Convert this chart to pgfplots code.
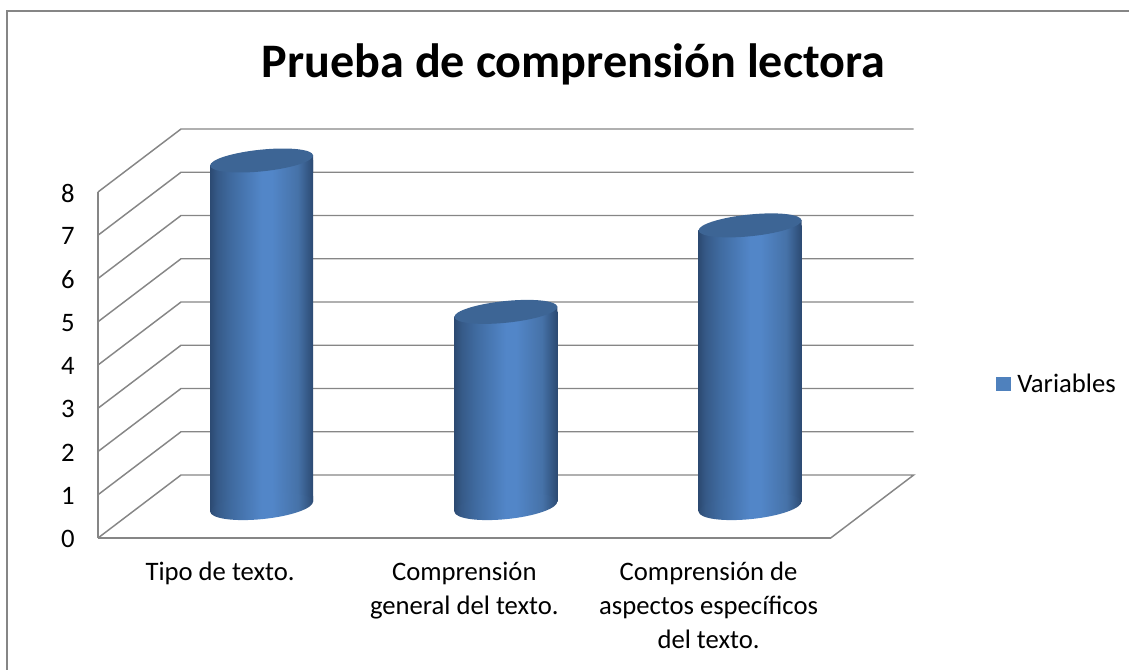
\documentclass[border=0pt]{standalone}
\usepackage{fontspec}
\setmainfont{Carlito}
\usepackage{pgfplots}
\pgfplotsset{compat=1.18}
\definecolor{gridc}{HTML}{868686}
\definecolor{topc}{HTML}{3D6595}
\definecolor{legc}{HTML}{4F81BD}
\definecolor{s0}{HTML}{2C4A72}
\definecolor{s1}{HTML}{365A88}
\definecolor{s2}{HTML}{3F6A9F}
\definecolor{s3}{HTML}{5286C8}
\definecolor{s4}{HTML}{4672A8}
\pgfdeclarehorizontalshading{cylshade}{100bp}{color(0bp)=(s0);color(25bp)=(s0);color(28.5bp)=(s1);color(35bp)=(s2);color(50bp)=(s3);color(55bp)=(s3);color(67.5bp)=(s4);color(72bp)=(s1);color(75bp)=(s0);color(100bp)=(s0)}
\pgfdeclareplotmark{cyltop}{%
  \fill[white,draw=none] (-39.2pt,0.6pt) -- (-33pt,0.6pt) -- (-39.2pt,-3.9pt) -- cycle;
  \path[draw=none,shading=cylshade] (-38.625pt,-3.9pt) -- (38.625pt,3.9pt) -- (38.625pt,-9pt) -- (-38.625pt,-9pt) -- cycle;
  \fill[topc,draw=none] (38.6pt,3.92pt) .. controls (38.147pt,8.394pt) and (20.50pt,10.265pt) .. (-0.82pt,8.1pt)
     .. controls (-22.14pt,5.935pt) and (-39.053pt,0.554pt) .. (-38.6pt,-3.92pt)
     .. controls (-38.147pt,-8.394pt) and (-20.50pt,-10.265pt) .. (0.82pt,-8.1pt)
     .. controls (22.14pt,-5.935pt) and (39.053pt,-0.554pt) .. (38.6pt,3.92pt) -- cycle;
}
\pgfdeclareplotmark{cylbot}{%
  \fill[white,draw=none] (39.2pt,-0.6pt) -- (33pt,-0.6pt) -- (39.2pt,3.9pt) -- cycle;
  \path[draw=none,shading=cylshade] (-38.625pt,8pt) -- (38.625pt,8pt) -- (38.625pt,3.9pt) -- (-38.625pt,-3.9pt) -- cycle;
  \path[draw=none,shading=cylshade] (38.6pt,3.92pt) .. controls (38.075pt,9.11pt) and (20.37pt,11.565pt) .. (-0.95pt,9.4pt)
     .. controls (-22.27pt,7.235pt) and (-39.125pt,1.27pt) .. (-38.6pt,-3.92pt)
     .. controls (-38.075pt,-9.11pt) and (-20.37pt,-11.565pt) .. (0.95pt,-9.4pt)
     .. controls (22.27pt,-7.235pt) and (39.125pt,-1.27pt) .. (38.6pt,3.92pt) -- cycle;
}
\tikzset{gl/.style={gridc,line width=1.1pt,mark=none}}
\begin{document}
\begin{tikzpicture}
\useasboundingbox (0,0) rectangle (846.75pt,501.75pt);
\draw[gridc,line width=1.3pt] (5pt,-1pt) -- (5pt,493.7pt) -- (848pt,493.7pt);
\begin{axis}[
  at={(73.5pt,98.25pt)}, anchor=south west,
  scale only axis, width=549.5pt, height=259.5pt,
  xmin=0, xmax=3, ymin=0, ymax=8,
  clip=false,
  axis x line=bottom, axis y line=left,
  axis line style={-,gridc,line width=1.1pt},
  major tick length=0pt,
  tick style={draw=none},
  ytick={0,1,2,3,4,5,6,7,8},
  xtick={0.5,1.5,2.5},
  xticklabels={{Tipo de texto.},{Comprensión\\general del texto.},{Comprensión de\\aspectos específicos\\del texto.}},
  /pgf/number format/assume math mode=true,
  tick label style={font=\fontsize{20}{25.5}\selectfont,text=black},
  xticklabel style={align=center,anchor=north,yshift=-14.5pt},
  yticklabel style={anchor=east,xshift=-14pt,yshift=-0.8pt},
  title={Prueba de comprensión lectora},
  title style={at={(0.649,1.347)},anchor=center,font=\fontsize{36.1}{42}\selectfont\bfseries},
]
\addplot[gl] coordinates {(0,1) (0.34,2.457) (3.34,2.457)};
\addplot[gl] coordinates {(0,2) (0.34,3.457) (3.34,3.457)};
\addplot[gl] coordinates {(0,3) (0.34,4.457) (3.34,4.457)};
\addplot[gl] coordinates {(0,4) (0.34,5.457) (3.34,5.457)};
\addplot[gl] coordinates {(0,5) (0.34,6.457) (3.34,6.457)};
\addplot[gl] coordinates {(0,6) (0.34,7.457) (3.34,7.457)};
\addplot[gl] coordinates {(0,7) (0.34,8.457) (3.34,8.457)};
\addplot[gl] coordinates {(0,8) (0.34,9.457) (3.34,9.457)};
\addplot[gl] coordinates {(0,0) (0.34,1.457) (3.34,1.457) (3,0)};
\end{axis}
\begin{axis}[
  at={(104.625pt,121.875pt)}, anchor=south west,
  scale only axis, width=549.5pt, height=259.5pt,
  xmin=0, xmax=3, ymin=0, ymax=8,
  clip=false, hide axis,
  legend style={at={(1.1645,0.354)},anchor=west,draw=none,fill=none,font=\fontsize{20}{24}\selectfont,inner sep=2pt,legend cell align=left},
]
\addplot[forget plot,ybar,bar width=77.25pt,draw=none,shading=cylshade] coordinates {(0.5,8)};
\addplot[forget plot,ybar,bar width=77.25pt,draw=none,shading=cylshade] coordinates {(1.5,4.5)};
\addplot[forget plot,ybar,bar width=77.25pt,draw=none,shading=cylshade] coordinates {(2.5,6.5)};
\addplot[forget plot,only marks,mark=cylbot,mark options={draw=none}] coordinates {(0.5,0) (1.5,0) (2.5,0)};
\addplot[forget plot,only marks,mark=cyltop,mark options={draw=none}] coordinates {(0.5,8) (1.5,4.5) (2.5,6.5)};
\addlegendimage{legend image code/.code={\fill[legc,draw=none] (0pt,-5.6pt) rectangle (11.25pt,5.6pt);}}
\addlegendentry{\hspace{3pt}Variables}
\end{axis}
\end{tikzpicture}
\end{document}
